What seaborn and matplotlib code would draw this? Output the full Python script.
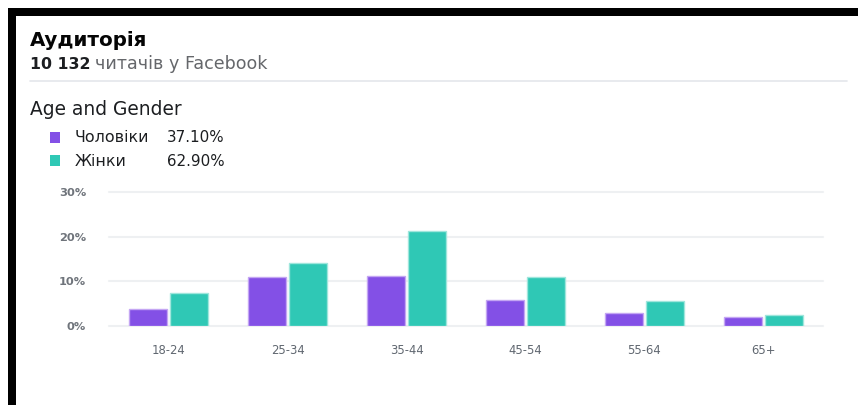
import pandas as pd
import seaborn as sns
import matplotlib.pyplot as plt
from matplotlib.patches import Rectangle

# Дані
age_groups = ['18-24', '25-34', '35-44', '45-54', '55-64', '65+']
men = [3.7, 11.0, 11.3, 5.8, 2.8, 2.0]
women = [7.5, 14.2, 21.3, 11.0, 5.5, 2.4]
gender_labels = ['Чоловіки', 'Жінки']
gender_share = [37.10, 62.90]
y_ticks = [0, 10, 20, 30]
readers = '10 132'

colors = ['#8350e6', '#2fc8b5']
edge_colors = ['#c4a6f3', '#9fe6dc']

df = pd.DataFrame({
    'age': age_groups * 2,
    'value': men + women,
    'gender': [gender_labels[0]] * len(men) + [gender_labels[1]] * len(women),
})

sns.set_theme(style='white')
plt.rcParams['font.family'] = ['DejaVu Sans']

W, H = 858, 405
fig = plt.figure(figsize=(W / 100, H / 100), dpi=100)
fig.patch.set_facecolor('white')


def px(x, y):
    return x / W, 1 - y / H


# Рамка (чорні смуги зверху і зліва)
fig.add_artist(Rectangle(px(8, 16), (W - 8) / W, 8 / H, transform=fig.transFigure,
                         facecolor='black', edgecolor='none'))
fig.add_artist(Rectangle((8 / W, 0), 8 / W, 1 - 8 / H, transform=fig.transFigure,
                         facecolor='black', edgecolor='none'))

# Заголовки
fig.text(*px(30, 46), 'Аудиторія', fontsize=14.3, fontweight='bold', color='#050505', va='baseline')
fig.text(*px(30, 69), readers, fontsize=11.3, fontweight='bold', color='#1c1e21', va='baseline')
fig.text(*px(95, 69), 'читачів у Facebook', fontsize=12.6, color='#65676b', va='baseline')
fig.add_artist(plt.Line2D([30 / W, 847 / W], [1 - 81 / H, 1 - 81 / H], transform=fig.transFigure,
                          color='#e4e6eb', linewidth=1.2))
fig.text(*px(30, 115), 'Age and Gender', fontsize=13.4, color='#1c1e21', va='baseline')

# Легенда
for i, (lab, share) in enumerate(zip(gender_labels, gender_share)):
    base = 142.5 + i * 23.5
    fig.add_artist(Rectangle(px(50, base), 10 / W, 11 / H, transform=fig.transFigure,
                             facecolor=colors[i], edgecolor='none'))
    fig.text(*px(75, base), lab, fontsize=11.4, color='#1c1e21', va='baseline')
    fig.text(*px(167, base), f'{share:.2f}%', fontsize=10.9, color='#1c1e21', va='baseline')

# Графік
ax = fig.add_axes([109 / W, 1 - 326 / H, (823 - 109) / W, (326 - 192) / H])
sns.barplot(data=df, x='age', y='value', hue='gender', palette=colors,
            width=0.68, gap=0.07, ax=ax, legend=False, saturation=1, linewidth=1)
for cont, ec in zip(ax.containers, edge_colors):
    for bar in cont:
        bar.set_edgecolor(ec)

ax.set_ylim(0, 30)
ax.set_yticks(y_ticks)
ax.set_yticklabels([f'{t}%' for t in y_ticks])
ax.set_xlabel('')
ax.set_ylabel('')
ax.grid(axis='y', color='#eef0f2', linewidth=1.5, clip_on=False)
ax.set_axisbelow(True)
for s in ax.spines.values():
    s.set_visible(False)
ax.tick_params(axis='y', length=0, pad=16.5, labelsize=8.2, labelcolor='#6f747b')
ax.tick_params(axis='x', length=0, pad=13.2, labelsize=8.4, labelcolor='#606770')
for t in ax.get_yticklabels():
    t.set_fontweight('bold')

fig.savefig('out.png', dpi=100)
